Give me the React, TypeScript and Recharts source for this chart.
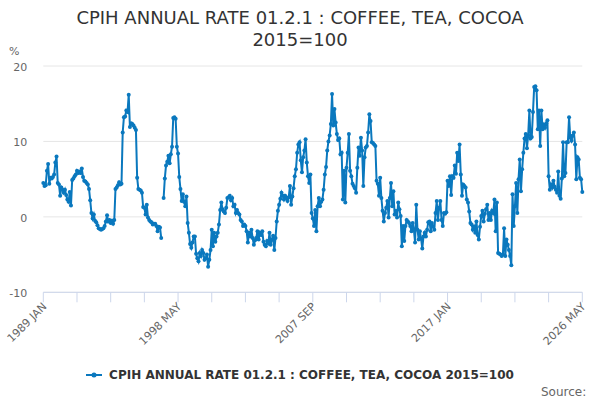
import { LineChart, Line, XAxis, YAxis, CartesianGrid } from "recharts";

// Monthly annual rate (%), Jan 1989 onwards, one row per year.
const rates1989to1998 = [
  4.5, 4.1, 4.2, 6.1, 7.0, 4.4, 5.2, 5.1, 5.3, 5.6, 7.2, 8.0,
  4.5, 4.3, 2.8, 3.9, 3.6, 3.2, 3.6, 2.9, 2.3, 2.0, 3.3, 1.5,
  4.9, 5.1, 5.4, 5.6, 6.1, 5.8, 6.0, 5.8, 6.4, 5.3, 4.8, 4.7,
  4.5, 4.3, 3.7, 2.2, 0.5, -0.2, 0.3, -0.5, -0.7, -1.1, -1.5, -1.6,
  -1.7, -1.6, -1.5, -1.2, -0.6, 0.2, -0.6, -0.4, -0.8, -0.5, -0.9, -0.4,
  3.7, 3.9, 4.2, 4.6, 4.3, 4.4, 11.2, 13.2, 13.3, 14.1, 13.9, 16.2,
  11.9, 12.4, 12.3, 12.1, 11.8, 11.5, 5.2, 3.7, 3.6, 3.5, 3.2, 1.3,
  1.2, 0.3, 1.6, -0.1, -0.4, -0.6, -0.7, -1.0, -0.9, -0.9, -1.2, -1.9,
  -1.3, -1.4, -2.8, null, 2.5, 5.1, 6.8, 7.3, 8.1, 7.1, 8.3, 9.3,
  13.1, 13.2, 13.0, 9.3, 8.4, 5.3, 3.7, 2.1, 3.0, 2.0, 1.4, 2.7,
];

const rates1999to2008 = [
  -0.8, -2.1, -3.6, -4.1, -3.4, -2.6, -2.6, -4.9, -5.5, -5.9, -4.8, -5.2,
  -4.4, -4.8, -5.7, -5.5, -5.0, -6.6, -5.7, -4.4, -1.7, -3.9, -2.1, -3.3,
  -2.6, -2.1, -1.0, 0.9, 1.9, 1.0, 0.7, 0.5, 1.2, 2.5, 2.6, 2.8,
  2.2, 2.5, 1.4, 1.6, 0.5, 0.9, 0.5, 0.3, -0.4, -0.6, -1.2, -1.0,
  -1.2, -1.9, -3.4, -2.1, -2.6, -1.7, -2.8, -3.7, -3.1, -2.8, -1.9, -3.0,
  -2.1, -2.4, -1.9, -3.3, -3.7, -3.9, -3.2, -3.5, -2.1, -3.7, -3.0, -2.5,
  -4.4, -2.8, -0.6, 0.8, 1.6, 2.4, 3.2, 2.8, 2.3, 2.8, 2.5, 2.1,
  2.6, 4.1, 1.6, 2.7, 3.8, 5.4, 6.3, 8.5, 9.6, 9.9, 7.5, 5.9,
  7.9, 8.8, 10.3, 7.2, 5.4, 4.5, 5.6, 0.5, -0.2, -1.2, 0.9, -1.9,
  1.4, 2.5, 1.4, 2.0, 2.3, 3.6, 5.6, 6.6, 8.8, 10.0, 10.8, 12.3,
];

const rates2009to2018 = [
  16.3, 12.1, 14.3, 12.5, 11.0, 10.2, 10.4, 8.3, 8.5, 2.3, 6.1, 1.9,
  6.5, 8.5, 11.0, 6.1, 5.4, 4.4, 4.1, 3.8, 3.2, 6.5, 9.2, 8.1,
  10.5, 8.8, 4.1, 7.9, 9.2, 9.4, 11.2, 13.6, 12.7, 9.9, 9.8, 9.6,
  9.4, 4.8, 4.4, 2.8, 5.2, 2.5, 0.8, -0.6, 0.5, 1.2, 2.1, -0.1,
  2.5, 4.5, 1.4, 3.4, 0.3, 0.8, -0.1, 1.9, 1.0, 0.1, -3.9, -1.2,
  -3.2, -1.2, -0.4, -0.6, -0.8, -1.2, -1.9, -0.8, -1.7, -3.4, 1.6, -1.7,
  -3.0, -1.9, -2.9, -4.2, -2.6, -2.1, -2.6, -1.7, -0.7, -0.6, -1.9, -0.8,
  -1.3, -1.7, 0.5, 2.1, -0.4, 1.2, 2.1, -0.4, -1.2, 0.5, 0.4, 0.6,
  4.8, 4.1, 5.4, 2.9, 5.4, 5.2, 6.8, 5.7, 8.5, 7.4, 9.6, 5.6,
  2.8, 4.3, 4.1, 3.9, 2.3, 1.9, 0.7, -0.8, -1.0, -1.7, -1.3, -2.1,
];

const rates2019to2026 = [
  -0.6, -2.4, -3.0, -1.3, 0.1, 0.8, -0.6, 0.4, 1.0, 1.6, -0.4, 0.5,
  -0.4, 0.8, 0.5, 2.3, -1.9, 1.9, -4.8, -4.9, -5.0, -5.2, -5.0, -1.5,
  -5.2, -3.0, -3.7, -4.4, -5.2, -6.4, 3.0, -1.2, 1.4, 4.5, 0.5, 5.0,
  7.6, 3.4, 6.3, 8.5, 10.4, 11.0, 9.1, 10.8, 14.1, 10.4, 10.6, 13.9,
  17.2, 17.3, 16.8, 11.6, 14.1, 9.4, 14.1, 11.6, 12.2, 11.8, 12.4, 12.8,
  5.4, 3.6, 4.3, 3.9, 4.8, 4.0, 3.6, 3.2, 6.0, 2.8, 2.4, 5.1,
  9.9, 5.4, 5.8, 9.9, 9.9, 13.2, 10.5, 10.1, 10.8, 11.2, 9.6, 5.0,
  7.9, 7.6, 5.2, 5.0, 3.3,
];

const monthNames = ["JAN", "FEB", "MAR", "APR", "MAY", "JUN", "JUL", "AUG", "SEP", "OCT", "NOV", "DEC"];
const labelledMonths = ["1989 JAN", "1998 MAY", "2007 SEP", "2017 JAN", "2026 MAY"];
const yTicks = [-10, 0, 10, 20];

const seriesName = "CPIH ANNUAL RATE 01.2.1 : COFFEE, TEA, COCOA 2015=100";
const lineColor = "#0a78be";

const allRates = [...rates1989to1998, ...rates1999to2008, ...rates2009to2018, ...rates2019to2026];
const data = allRates.map((value, i) => ({
  month: `${1989 + Math.floor(i / 12)} ${monthNames[i % 12]}`,
  value,
}));

const font = "'DejaVu Sans', sans-serif";

function MonthTick(props: any) {
  const { x, y, payload } = props;
  if (!labelledMonths.includes(payload.value)) return <g />;
  const tx = x + 4;
  const ty = y + 3;
  return (
    <text
      x={tx}
      y={ty}
      transform={`rotate(-45 ${tx} ${ty})`}
      textAnchor="end"
      fontSize={11}
      fill="#666"
      fontFamily={font}
    >
      {payload.value}
    </text>
  );
}

export default function App() {
  return (
    <div style={{ position: "absolute", left: 0, top: 0, width: 600, height: 400, fontFamily: font, background: "#fff" }}>
      <div style={{ position: "absolute", top: 7, left: 0, width: 600, textAlign: "center", fontSize: 18, lineHeight: "22px", color: "#333" }}>
        CPIH ANNUAL RATE 01.2.1 : COFFEE, TEA, COCOA
        <br />
        2015=100
      </div>
      <div style={{ position: "absolute", top: 45, left: 9, fontSize: 11, color: "#666" }}>%</div>
      <LineChart width={600} height={400} data={data} margin={{ top: 66, right: 17.7, bottom: 47.7, left: 0 }}>
        <CartesianGrid vertical={false} stroke="#e6e6e6" />
        <XAxis
          dataKey="month"
          interval={27}
          height={60}
          tickSize={10}
          tickLine={{ stroke: "#ccd6eb" }}
          axisLine={{ stroke: "#ccd6eb" }}
          tick={MonthTick}
        />
        <YAxis
          domain={[-10, 20]}
          ticks={yTicks}
          width={43.3}
          axisLine={false}
          tickLine={false}
          tickSize={0}
          tickMargin={16}
          tick={{ fontSize: 11, fill: "#666", fontFamily: font, dy: 1 }}
        />
        <Line
          type="linear"
          dataKey="value"
          stroke={lineColor}
          strokeWidth={2}
          dot={{ r: 2, fill: lineColor, stroke: lineColor, strokeWidth: 0 }}
          connectNulls={false}
          isAnimationActive={false}
        />
      </LineChart>
      <div style={{ position: "absolute", top: 368, left: 0, width: 600, display: "flex", justifyContent: "center", alignItems: "center" }}>
        <svg width={18} height={12} style={{ marginRight: 5 }}>
          <line x1={0} y1={6} x2={16} y2={6} stroke={lineColor} strokeWidth={2} />
          <circle cx={8} cy={6} r={2.5} fill={lineColor} />
        </svg>
        <span style={{ fontSize: 12, fontWeight: "bold", color: "#333" }}>{seriesName}</span>
      </div>
      <div style={{ position: "absolute", top: 385, left: 541, fontSize: 12, color: "#666" }}>Source:</div>
    </div>
  );
}
